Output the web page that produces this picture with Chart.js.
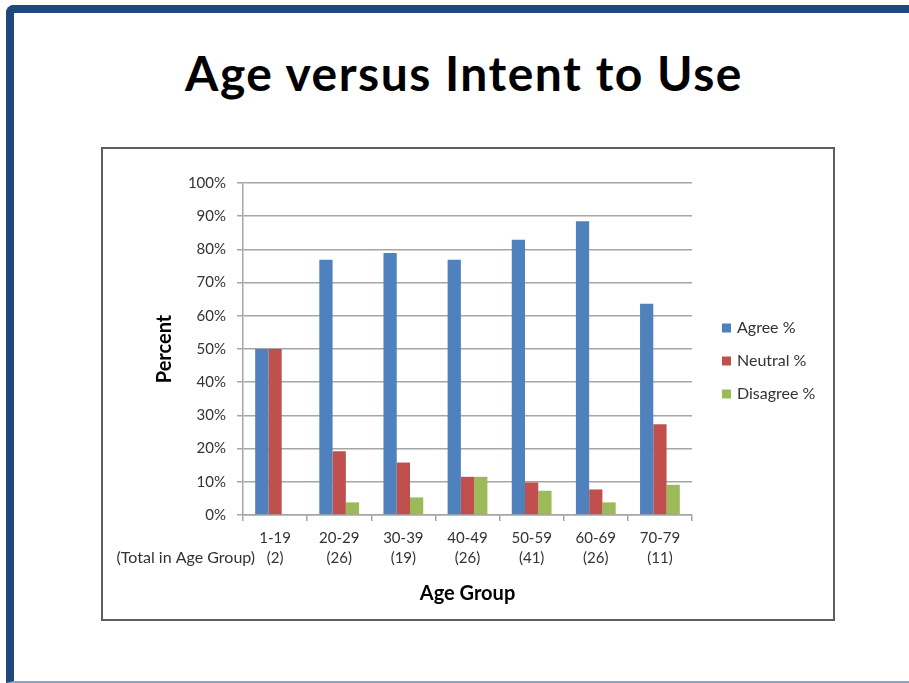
<!DOCTYPE html>
<html>
<head>
<meta charset="utf-8">
<script src="https://cdn.jsdelivr.net/npm/chart.js@4.4.1/dist/chart.umd.min.js"></script>
<style>
    html, body { margin: 0; padding: 0; background: #fff; width: 909px; height: 683px; overflow: hidden; }
    .frame {
        position: absolute; left: 6px; top: 5px; width: 960px; height: 668px;
        border-top: 8px solid #1F497D; border-left: 8px solid #1F497D;
        border-bottom: 2px solid #8DA6C6; border-top-left-radius: 8px;
    }
    h1 {
        position: absolute; left: 0; width: 928px; top: 40px; margin: 0;
        text-align: center; font: bold 48px Lato, sans-serif; line-height: 66px;
        letter-spacing: 1.5px; color: #000;
    }
    .box {
        position: absolute; left: 101px; top: 147px; width: 734px; height: 474px;
        border: 2px solid #5f5f5f; box-sizing: border-box; background: #fff;
    }
    canvas { display: block; }
</style>
</head>
<body>
<div class="frame"></div>
<h1>Age versus Intent to Use</h1>
<div class="box"><canvas id="ageChart" width="730" height="470"></canvas></div>
<script>
const ageGroups = ["1-19", "20-29", "30-39", "40-49", "50-59", "60-69", "70-79"];
const groupTotals = ["(2)", "(26)", "(19)", "(26)", "(41)", "(26)", "(11)"];
const agree = [50, 76.9, 78.9, 76.9, 82.9, 88.5, 63.6];
const neutral = [50, 19.2, 15.8, 11.5, 9.8, 7.7, 27.3];
const disagree = [0, 3.8, 5.3, 11.5, 7.3, 3.8, 9.1];
const groupNote = "(Total in Age Group)";

const textColor = '#333333';
const gridColor = '#a6a6a6';

Chart.defaults.font.family = 'Lato, sans-serif';

// legend on the right plus the note left of the first category label
const extras = {
    id: 'extras',
    afterDraw(chart) {
        const {ctx, chartArea, scales: {x}} = chart;
        ctx.save();
        ctx.font = '16px Lato, sans-serif';
        ctx.fillStyle = textColor;
        ctx.textAlign = 'right';
        ctx.textBaseline = 'middle';
        ctx.fillText(groupNote, x.getPixelForTick(0) - 20, x.top + 6 + 7 + 30);

        const midY = (chartArea.top + chartArea.bottom) / 2 + 12;
        chart.data.datasets.forEach((ds, i) => {
            const y = midY + (i - 1) * 33;
            ctx.fillStyle = ds.backgroundColor;
            ctx.fillRect(chartArea.right + 30, y - 4.5, 9, 9);
            ctx.fillStyle = textColor;
            ctx.textAlign = 'left';
            ctx.fillText(ds.label, chartArea.right + 45, y);
        });
        ctx.restore();
    }
};

document.addEventListener('DOMContentLoaded', () => {
    const ctx = document.getElementById('ageChart').getContext('2d');
    const labels = ageGroups.map((g, i) => [g, groupTotals[i]]);
    const config = {
        type: 'bar',
        data: {
            labels: labels,
            datasets: [
                { label: 'Agree %', data: agree, backgroundColor: '#4F81BD' },
                { label: 'Neutral %', data: neutral, backgroundColor: '#C0504D' },
                { label: 'Disagree %', data: disagree, backgroundColor: '#9BBB59' }
            ]
        },
        options: {
            responsive: false,
            animation: false,
            datasets: {
                bar: { categoryPercentage: 0.62, barPercentage: 1.0 }
            },
            layout: {
                padding: { left: 50, right: 141, top: 34, bottom: 13 }
            },
            scales: {
                x: {
                    grid: { drawOnChartArea: false, tickLength: 6, color: gridColor, lineWidth: 1.5 },
                    border: { color: gridColor, width: 1.5 },
                    ticks: { padding: 7, color: textColor, font: { size: 15, lineHeight: 1.333 } },
                    title: {
                        display: true, text: 'Age Group', color: '#000',
                        font: { size: 20, weight: 'bold' }, padding: { top: 0, bottom: 0 }
                    },
                    afterFit: scale => { scale.height = 91; }
                },
                y: {
                    min: 0,
                    max: 100,
                    ticks: {
                        stepSize: 10, padding: 11, color: textColor, font: { size: 15 },
                        callback: v => v + '%'
                    },
                    grid: { color: gridColor, lineWidth: 1.5, tickLength: 6 },
                    border: { color: gridColor, width: 1.5 },
                    title: {
                        display: true, text: 'Percent', color: '#000',
                        font: { size: 20, weight: 'bold' }, padding: { top: 0, bottom: 0 }
                    },
                    afterFit: scale => { scale.width = 90; }
                }
            },
            plugins: {
                legend: { display: false },
                tooltip: { enabled: false }
            }
        },
        plugins: [extras]
    };
    new Chart(ctx, config);
});
</script>
</body>
</html>
